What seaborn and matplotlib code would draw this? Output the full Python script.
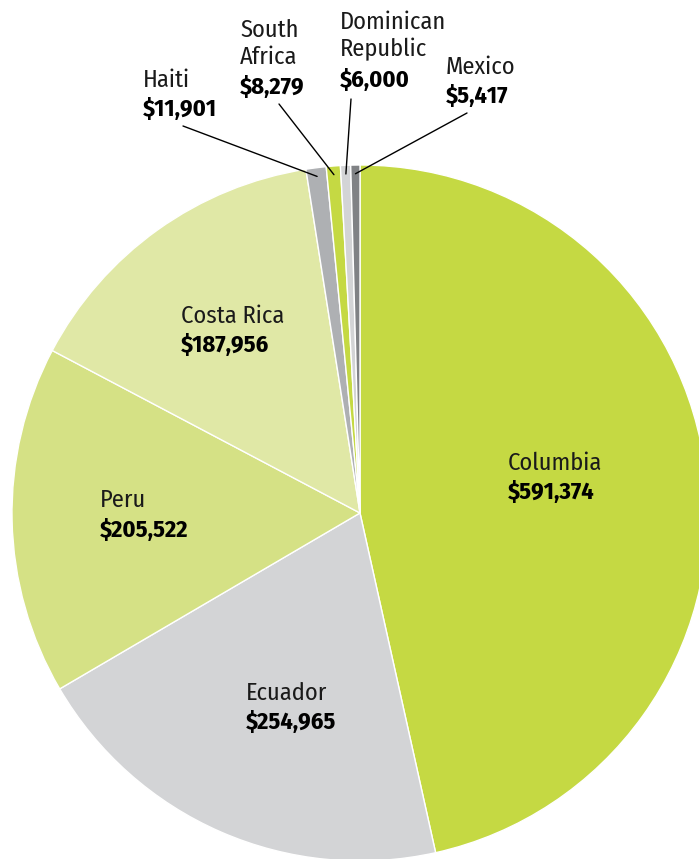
import numpy as np
import matplotlib
matplotlib.use("Agg")
import matplotlib.pyplot as plt
from matplotlib import font_manager
import seaborn as sns

countries = ["Columbia", "Ecuador", "Peru", "Costa Rica", "Haiti",
             "South Africa", "Dominican Republic", "Mexico"]
name_lines = ["Columbia", "Ecuador", "Peru", "Costa Rica", "Haiti",
              "South\nAfrica", "Dominican\nRepublic", "Mexico"]
values = [591374, 254965, 205522, 187956, 11901, 8279, 6000, 5417]
value_labels = ["$591,374", "$254,965", "$205,522", "$187,956", "$11,901",
                "$8,279", "$6,000", "$5,417"]
colors = ["#c5d943", "#d3d4d6", "#d5e185", "#e0e8a6", "#aeb0b3",
          "#c5d943", "#d3d4d6", "#808285"]

sns.set_theme(style="white")

available = {f.name for f in font_manager.fontManager.ttflist}
prefs = ['Fira Sans Condensed', 'PT Sans Narrow', 'Roboto Condensed',
         'Encode Sans Condensed', 'Archivo Narrow', 'Asap Condensed',
         'IBM Plex Sans Condensed', 'Liberation Sans Narrow',
         'Barlow Semi Condensed', 'DejaVu Sans']
font = next(p for p in prefs if p in available)
plt.rcParams['font.family'] = [font, 'DejaVu Sans']

W, H = 699, 859
cx, cy, R = 360, 513, 348
fig = plt.figure(figsize=(W / 100, H / 100), dpi=100)
ax = fig.add_axes([0, 0, 1, 1])
wedges, _ = ax.pie(values, colors=colors, startangle=90, counterclock=False,
                   radius=1.0, center=(0, 0),
                   wedgeprops=dict(edgecolor="white", linewidth=1.0))
ax.set_xlim(-cx / R, (W - cx) / R)
ax.set_ylim(-(H - cy) / R, cy / R)
ax.set_aspect('auto')
ax.axis('off')


def px(x, y):
    return ((x - cx) / R, (cy - y) / R)


# label positions in pixels: (x_left, y_name_center, y_value_center)
pos = {
    "Columbia": (508, 463, 492),
    "Ecuador": (246, 693, 722),
    "Peru": (100, 500, 530),
    "Costa Rica": (181, 316, 345),
    "Haiti": (143, 80, 109),
    "South Africa": (240, 44, 87),
    "Dominican Republic": (340, 36, 80),
    "Mexico": (446, 67, 96),
}
fs = 17.5
for c, nl, vl in zip(countries, name_lines, value_labels):
    x, yn, yv = pos[c]
    X, Yn = px(x, yn)
    _, Yv = px(x, yv)
    ax.text(X, Yn, nl, ha='left', va='center', fontsize=fs, color='#1a1a1a',
            fontweight='normal', linespacing=1.22)
    ax.text(X, Yv, vl, ha='left', va='center', fontsize=fs, color='black',
            fontweight='bold')

# leader lines for small slices
leader_start = {
    "Haiti": (183, 126),
    "South Africa": (279, 104),
    "Dominican Republic": (351, 99),
    "Mexico": (467, 113),
}
for w, c in zip(wedges, countries):
    if c in leader_start:
        mid = np.deg2rad((w.theta1 + w.theta2) / 2)
        r = 0.975
        ex, ey = r * np.cos(mid), r * np.sin(mid)
        sx, sy = px(*leader_start[c])
        ax.plot([sx, ex], [sy, ey], color='black', lw=1.0)

fig.savefig("out.png", dpi=100, facecolor='white')
